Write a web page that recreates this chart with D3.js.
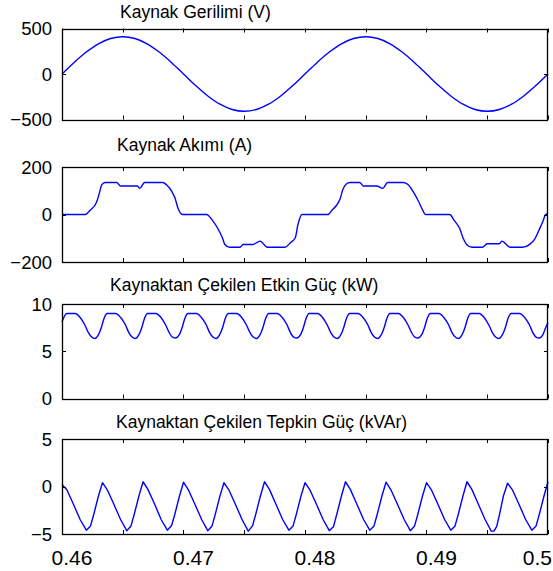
<!DOCTYPE html>
<html><head><meta charset="utf-8">
<script src="https://cdn.jsdelivr.net/npm/d3@7"></script>
<style>
body{margin:0;background:#fff}
svg{display:block}
text{font-family:"Liberation Sans",Arial,sans-serif;fill:#000}
</style>
</head><body><svg id="c" width="553" height="571"></svg>
<script>
// ---------- data ----------
const titles = ["Kaynak Gerilimi (V)", "Kaynak Akımı (A)", "Kaynaktan Çekilen Etkin Güç (kW)", "Kaynaktan Çekilen Tepkin Güç (kVAr)"];

const xDomain = [0.46, 0.5];
const xTickValues = [0.46, 0.465, 0.47, 0.475, 0.48, 0.485, 0.49, 0.495, 0.5];
const xTickLabels = ["0.46", "", "0.47", "", "0.48", "", "0.49", "", "0.5"];

const yDomains = [[-500, 500], [-200, 200], [0, 10], [-5, 5]];
const yTickValues = [[-500, 0, 500], [-200, 0, 200], [0, 5, 10], [-5, 0, 5]];

// Kaynak Gerilimi (V)
const voltT = [0.460,0.461,0.462,0.463,0.464,0.465,0.466,0.467,0.468,0.469,0.470,0.471,0.472,0.473,0.474,0.475,0.476,0.477,0.478,0.479,0.480,0.481,0.482,0.483,0.484,0.485,0.486,0.487,0.488,0.489,0.490,0.491,0.492,0.493,0.494,0.495,0.496,0.497,0.498,0.499,0.500];
const voltV = [0,127,241,332,390,410,390,332,241,127,0,-127,-241,-332,-390,-410,-390,-332,-241,-127,0,127,241,332,390,410,390,332,241,127,0,-127,-241,-332,-390,-410,-390,-332,-241,-127,0];

// Kaynak Akımı (A)
const curT = [0.46000,0.46190,0.46230,0.46285,0.46307,0.46327,0.46355,0.46450,0.46480,0.46620,0.46640,0.46680,0.46830,0.46860,0.46905,0.46930,0.46955,0.46990,
  0.47190,0.47240,0.47285,0.47320,0.47340,0.47380,0.47465,0.47490,0.47570,0.47630,0.47690,0.47835,0.47880,0.47920,0.47940,0.47975,
  0.48190,0.48220,0.48260,0.48290,0.48310,0.48340,0.48370,0.48450,0.48480,0.48590,0.48640,0.48680,0.48810,0.48850,0.48890,0.48930,0.48970,0.48990,
  0.49190,0.49230,0.49275,0.49300,0.49330,0.49375,0.49460,0.49500,0.49600,0.49620,0.49690,0.49790,0.49850,0.49890,0.49930,0.49960,0.49980,0.50000];
const curV = [0,0,17,53,89,125,135,135,120,120,110,135,135,125,96,69,26,0,
  0,-26,-61,-98,-126,-138,-138,-126,-126,-112,-138,-138,-119,-98,-47,0,
  0,17,39,67,103,128,135,135,120,120,110,135,135,125,96,60,17,0,
  0,-26,-61,-98,-126,-138,-138,-123,-123,-112,-138,-138,-126,-104,-61,-26,0,3];

// Kaynaktan Çekilen Etkin Güç (kW)
const pT = [0.46000,
  0.46039,0.46109,0.46148,0.46189,0.46216,0.46244,0.46271,0.46298,0.46326,0.46345,
  0.46372,0.46442,0.46481,0.46522,0.46549,0.46577,0.46604,0.46631,0.46659,0.46678,
  0.46704,0.46774,0.46813,0.46854,0.46881,0.46909,0.46936,0.46963,0.46991,0.47010,
  0.47037,0.47107,0.47146,0.47187,0.47214,0.47242,0.47269,0.47296,0.47324,0.47343,
  0.47369,0.47439,0.47478,0.47519,0.47546,0.47574,0.47601,0.47628,0.47656,0.47675,
  0.47702,0.47772,0.47811,0.47852,0.47879,0.47907,0.47934,0.47961,0.47989,0.48008,
  0.48034,0.48104,0.48143,0.48184,0.48211,0.48239,0.48266,0.48293,0.48321,0.48340,
  0.48367,0.48437,0.48476,0.48517,0.48544,0.48572,0.48599,0.48626,0.48654,0.48673,
  0.48699,0.48769,0.48808,0.48849,0.48876,0.48904,0.48931,0.48958,0.48986,0.49005,
  0.49032,0.49102,0.49141,0.49182,0.49209,0.49237,0.49264,0.49291,0.49319,0.49338,
  0.49364,0.49434,0.49473,0.49514,0.49541,0.49569,0.49596,0.49623,0.49651,0.49670,
  0.49697,0.49767,0.49806,0.49847,0.49874,0.49902,0.49929,0.49956,0.49984,
  0.50000];
const pV = [8.1,
  9.0,9.0,8.6,7.75,7.0,6.5,6.35,6.7,7.6,8.45,
  9.0,9.0,8.6,7.8,7.0,6.5,6.35,6.7,7.6,8.45,
  9.0,9.0,8.6,7.75,7.0,6.5,6.4,6.7,7.6,8.45,
  9.0,9.0,8.6,7.8,7.0,6.5,6.35,6.7,7.6,8.45,
  9.0,9.0,8.6,7.75,7.0,6.5,6.35,6.7,7.6,8.45,
  9.0,9.0,8.6,7.8,7.0,6.5,6.4,6.7,7.6,8.45,
  9.0,9.0,8.6,7.75,7.0,6.5,6.35,6.7,7.6,8.45,
  9.0,9.0,8.6,7.8,7.0,6.5,6.35,6.7,7.6,8.45,
  9.0,9.0,8.6,7.75,7.0,6.5,6.4,6.7,7.6,8.45,
  9.0,9.0,8.6,7.8,7.0,6.5,6.35,6.7,7.6,8.45,
  9.0,9.0,8.6,7.75,7.0,6.5,6.35,6.7,7.6,8.45,
  9.0,9.0,8.6,7.8,7.0,6.5,6.4,6.7,7.6,
  8.0];

// Kaynaktan Çekilen Tepkin Güç (kVAr)
const qT = [0.46000,0.46040,0.46095,0.46150,0.46200,0.46235,0.46260,0.46300,
  0.46333,0.46373,0.46428,0.46483,0.46533,0.46568,0.46593,0.46633,
  0.46667,0.46707,0.46762,0.46817,0.46867,0.46902,0.46927,0.46967,
  0.47000,0.47040,0.47095,0.47150,0.47200,0.47235,0.47260,0.47300,
  0.47333,0.47373,0.47428,0.47483,0.47533,0.47568,0.47593,0.47633,
  0.47667,0.47707,0.47762,0.47817,0.47867,0.47902,0.47927,0.47967,
  0.48000,0.48040,0.48095,0.48150,0.48200,0.48235,0.48260,0.48300,
  0.48333,0.48373,0.48428,0.48483,0.48533,0.48568,0.48593,0.48633,
  0.48667,0.48707,0.48762,0.48817,0.48867,0.48902,0.48927,0.48967,
  0.49000,0.49040,0.49095,0.49150,0.49200,0.49235,0.49260,0.49300,
  0.49333,0.49373,0.49428,0.49483,0.49533,0.49555,0.49578,0.49600,0.49633,
  0.49667,0.49707,0.49762,0.49817,0.49867,0.49902,0.49927,0.49967,0.50000];
const qV = [0.2,-0.35,-1.9,-3.5,-4.6,-4.15,-3.0,-1.0,
  0.4,-0.35,-1.9,-3.5,-4.65,-4.15,-3.0,-1.0,
  0.5,-0.3,-1.85,-3.5,-4.6,-4.1,-3.0,-1.0,
  0.45,-0.35,-1.9,-3.5,-4.65,-4.15,-3.0,-1.0,
  0.4,-0.35,-1.9,-3.5,-4.7,-4.15,-3.0,-1.0,
  0.5,-0.3,-1.9,-3.5,-4.6,-4.15,-3.0,-1.0,
  0.4,-0.35,-1.9,-3.5,-4.65,-4.2,-3.0,-1.0,
  0.5,-0.3,-1.9,-3.5,-4.6,-4.15,-3.0,-1.0,
  0.45,-0.35,-1.9,-3.5,-4.65,-4.15,-3.0,-1.0,
  0.4,-0.35,-1.9,-3.5,-4.6,-4.15,-3.0,-1.0,
  0.5,-0.3,-1.9,-3.5,-4.7,-4.7,-4.2,-3.0,-1.0,
  0.35,-0.35,-1.9,-3.5,-4.6,-4.15,-3.0,-1.0,0.5];

// ---------- layout ----------
const W = 553, H = 571;
const plotLeft = 62, plotRight = 548;
const panelTops = [28.5, 167, 304, 439];
const panelBottoms = [119.5, 262, 398.5, 534];
const titleX = [120, 117, 110, 116];
const titleY = [18, 151, 291, 428];

const series = [
  {t: voltT, v: voltV, curve: d3.curveMonotoneX},
  {t: curT, v: curV, curve: d3.curveMonotoneX},
  {t: pT, v: pV, curve: d3.curveMonotoneX},
  {t: qT, v: qV, curve: d3.curveLinear}
];

const svg = d3.select("#c");
svg.append("rect").attr("width", W).attr("height", H).attr("fill", "#fff");

const x = d3.scaleLinear().domain(xDomain).range([plotLeft, plotRight]);
const tickLen = 4;

series.forEach((s, i) => {
  const top = panelTops[i], bottom = panelBottoms[i];
  const y = d3.scaleLinear().domain(yDomains[i]).range([bottom, top]);
  const g = svg.append("g");

  // title
  g.append("text")
    .attr("x", titleX[i]).attr("y", titleY[i])
    .attr("font-size", "17.5px")
    .text(titles[i]);

  // data line
  const line = d3.line().x(d => x(d[0])).y(d => y(d[1])).curve(s.curve);
  g.append("path")
    .datum(d3.zip(s.t, s.v))
    .attr("d", line)
    .attr("fill", "none")
    .attr("stroke", "#0000ff")
    .attr("stroke-width", 1.4)
    .attr("stroke-linejoin", "round");

  // x ticks (top and bottom, inward)
  const xt = g.append("g");
  xTickValues.forEach(tv => {
    const px = Math.round(x(tv)) + 0.5;
    xt.append("line").attr("x1", px).attr("x2", px).attr("y1", bottom).attr("y2", bottom - tickLen).attr("stroke", "#000");
    xt.append("line").attr("x1", px).attr("x2", px).attr("y1", top).attr("y2", top + tickLen).attr("stroke", "#000");
  });

  // y ticks (left and right, inward) + labels
  yTickValues[i].forEach(tv => {
    const py = Math.round(y(tv)) + 0.5;
    g.append("line").attr("x1", plotLeft).attr("x2", plotLeft + tickLen).attr("y1", py).attr("y2", py).attr("stroke", "#000");
    g.append("line").attr("x1", plotRight).attr("x2", plotRight - tickLen).attr("y1", py).attr("y2", py).attr("stroke", "#000");
    g.append("text")
      .attr("x", 52).attr("y", y(tv))
      .attr("dy", "0.36em")
      .attr("text-anchor", "end")
      .attr("font-size", "18.5px")
      .text(d3.format("d")(tv));
  });

  // box
  g.append("rect")
    .attr("x", plotLeft + 0.5).attr("y", Math.round(top) + 0.5)
    .attr("width", plotRight - plotLeft - 1).attr("height", Math.round(bottom) - Math.round(top))
    .attr("fill", "none").attr("stroke", "#000").attr("stroke-width", 1.3);

  // x tick labels on the last panel only
  if (i === series.length - 1) {
    xTickValues.forEach((tv, j) => {
      if (!xTickLabels[j]) return;
      const t = g.append("text")
        .attr("y", 565)
        .attr("font-size", "21px")
        .attr("text-anchor", "middle")
        .text(xTickLabels[j]);
      let cx = x(tv) + 10;
      const w = t.node().getComputedTextLength();
      if (cx + w / 2 > W - 1) { cx = W - 1 - w / 2; }
      t.attr("x", cx);
    });
  }
});
</script>
</body></html>
